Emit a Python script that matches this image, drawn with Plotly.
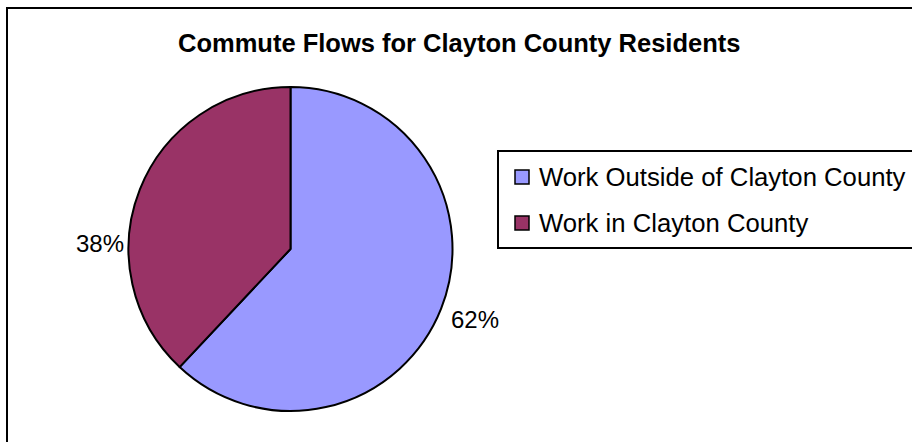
import plotly.graph_objects as go

W, H = 912, 442

title_text = "Commute Flows for Clayton County Residents"
labels = ["Work Outside of Clayton County", "Work in Clayton County"]
values = [62, 38]
colors = ["#9999FF", "#993366"]

def px(x):
    return x / W

def py(y):
    return 1 - y / H

cx, cy, r = 290.5, 249, 162

fig = go.Figure()
fig.add_trace(go.Pie(
    labels=labels, values=values, sort=False, direction="clockwise", rotation=0,
    marker=dict(colors=colors, line=dict(color="black", width=2)),
    textinfo="none", hoverinfo="label+percent", showlegend=False,
    domain=dict(x=[px(cx - r), px(cx + r)], y=[py(cy + r), py(cy - r)]),
))

total = sum(values)
pct = [f"{round(v / total * 100)}%" for v in values]
label_pos = [(475, 319), (100, 243)]

font_reg = dict(family="Liberation Sans, Arial, sans-serif", size=24, color="black")
annotations = []
for t, (x, y) in zip(pct, label_pos):
    annotations.append(dict(x=px(x), y=py(y), xref="paper", yref="paper", text=t,
                            showarrow=False, xanchor="center", yanchor="middle", font=font_reg))

annotations.append(dict(x=px(459), y=py(43), xref="paper", yref="paper", text="<b>" + title_text + "</b>",
                        showarrow=False, xanchor="center", yanchor="middle",
                        font=dict(family="Liberation Sans, Arial, sans-serif", size=25.5, color="black")))

shapes = [
    dict(type="rect", xref="paper", yref="paper", x0=px(7), y0=py(8), x1=px(930), y1=py(460),
         line=dict(color="black", width=2), fillcolor="rgba(0,0,0,0)"),
    dict(type="rect", xref="paper", yref="paper", x0=px(498), y0=py(151), x1=px(930), y1=py(248),
         line=dict(color="black", width=2), fillcolor="rgba(0,0,0,0)"),
]
row_y = [177, 223]
for lab, col, y in zip(labels, colors, row_y):
    shapes.append(dict(type="rect", xref="paper", yref="paper", x0=px(515), y0=py(y - 7), x1=px(529), y1=py(y + 7),
                       line=dict(color="black", width=1.5), fillcolor=col))
    annotations.append(dict(x=px(537), y=py(y), xref="paper", yref="paper", text=lab, showarrow=False,
                            xanchor="left", yanchor="middle",
                            font=dict(family="Liberation Sans, Arial, sans-serif", size=25.7, color="black")))

fig.update_layout(
    width=W, height=H, margin=dict(l=0, r=0, t=0, b=0),
    paper_bgcolor="white", plot_bgcolor="white",
    annotations=annotations, shapes=shapes, showlegend=False,
)
fig.write_html("out.html")
